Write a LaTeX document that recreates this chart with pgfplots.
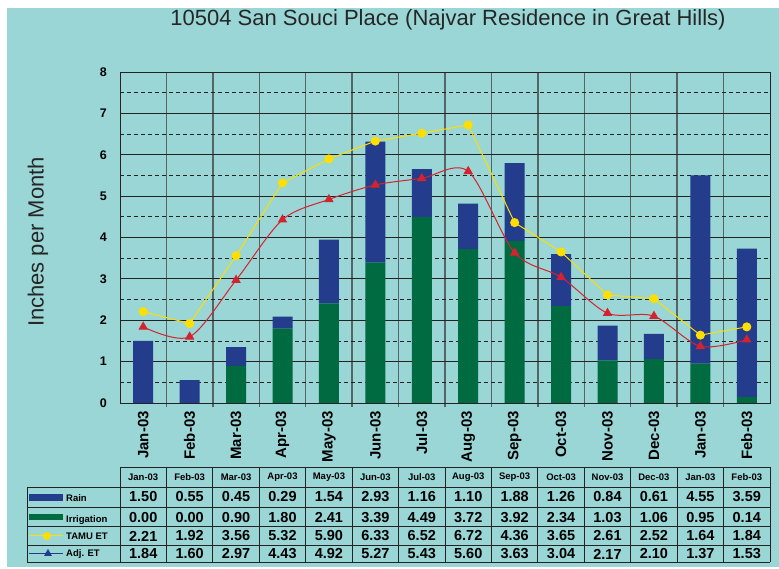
\documentclass[border=0pt]{standalone}
\usepackage{pgfplots}
\usepackage{pgfplotstable}
\pgfplotsset{compat=1.18}
\usepackage{fontspec}
\setmainfont{Liberation Sans}
\definecolor{bg}{RGB}{154,214,214}
\definecolor{rainc}{RGB}{35,60,140}
\definecolor{irrc}{RGB}{0,106,64}
\definecolor{tamuc}{RGB}{255,222,0}
\definecolor{adjc}{RGB}{213,35,45}
\definecolor{gridc}{RGB}{35,35,35}
\definecolor{vgridc}{RGB}{85,100,100}

\pgfplotstableread{
x rain irr tamu adj
0 1.50 0.00 2.21 1.84
1 0.55 0.00 1.92 1.60
2 0.45 0.90 3.56 2.97
3 0.29 1.80 5.32 4.43
4 1.54 2.41 5.90 4.92
5 2.93 3.39 6.33 5.27
6 1.16 4.49 6.52 5.43
7 1.10 3.72 6.72 5.60
8 1.88 3.92 4.36 3.63
9 1.26 2.34 3.65 3.04
10 0.84 1.03 2.61 2.17
11 0.61 1.06 2.52 2.10
12 4.55 0.95 1.64 1.37
13 3.59 0.14 1.84 1.53
}\data

\pgfplotsset{
  common/.style={
    at={(120pt,166pt)}, anchor=south west,
    scale only axis, width=650pt, height=331pt,
    xmin=-0.5, xmax=13.5, ymin=0, ymax=8,
  }
}

\begin{document}
\begin{tikzpicture}[x=1pt,y=1pt]
\fill[white] (0,0) rectangle (779,569);
\fill[bg] (7,2) rectangle (779,561);

\begin{axis}[common,
  ybar stacked, bar width=20pt,
  axis line style={draw=gridc, line width=0.8pt},
  xtick={0,...,13},
  xticklabels={Jan-03,Feb-03,Mar-03,Apr-03,May-03,Jun-03,Jul-03,Aug-03,Sep-03,Oct-03,Nov-03,Dec-03,Jan-03,Feb-03},
  minor xtick={0.5,1.5,...,12.5},
  ytick={0,...,8},
  minor ytick={0.5,1.5,...,7.5},
  xmajorgrids=false, xminorgrids=true,
  ymajorgrids=true, yminorgrids=true,
  major grid style={draw=gridc, line width=0.8pt},
  minor grid style={draw=gridc, line width=0.8pt, dash pattern=on 4pt off 3pt},
  minor x grid style={draw=vgridc, line width=1.4pt, solid},
  tick align=outside, xtick pos=bottom,
  major tick length=0pt, minor tick length=4pt,
  ytick style={draw=none},
  xtick style={draw=vgridc, line width=1.4pt},
  /pgf/number format/assume math mode=true,
  xticklabel style={rotate=90, anchor=east, inner sep=0pt, font=\bfseries\fontsize{15}{15}\selectfont},
  xticklabel shift=8pt,
  yticklabel style={inner sep=0pt, font=\bfseries\fontsize{12.5}{13}\selectfont},
  yticklabel shift=13pt,
]
\addplot[fill=irrc, draw=none] table[x=x,y=irr]{\data};
\addplot[fill=rainc, draw=none] table[x=x,y=rain]{\data};
\end{axis}

\begin{axis}[common, hide axis, clip=false]
\addplot[adjc, line width=1pt, smooth, mark=triangle*, mark size=4.5pt, mark options={fill=adjc, draw=adjc}] table[x=x,y=adj]{\data};
\addplot[tamuc, line width=1pt, mark=*, mark size=4pt, mark options={fill=tamuc, draw=tamuc}] table[x=x,y=tamu]{\data};
\end{axis}

% title and y label
\node[font=\fontsize{22}{24}\selectfont, text=black!85] at (448,549) {10504 San Souci Place (Najvar Residence in Great Hills)};
\node[rotate=90, font=\fontsize{22}{24}\selectfont, text=black!85] at (38,327) {Inches per Month};

% data table
\def\cw{46.4286}
\draw[gridc, line width=0.8pt] (120,102) -- (770,102);
\foreach \yy in {82,62,43,24,7} \draw[gridc, line width=0.8pt] (27,\yy) -- (770,\yy);
\draw[gridc, line width=0.8pt] (27,82) -- (27,7);
\foreach \i in {0,...,14} \draw[gridc, line width=0.8pt] ({120+\cw*\i},102) -- ({120+\cw*\i},7);

\foreach \m [count=\i from 0] in {Jan-03,Feb-03,Mar-03,Apr-03,May-03,Jun-03,Jul-03,Aug-03,Sep-03,Oct-03,Nov-03,Dec-03,Jan-03,Feb-03}
  \node[font=\bfseries\fontsize{9.5}{10}\selectfont] at ({120+\cw*(\i+0.5)},92) {\m};
\foreach \v [count=\i from 0] in {1.50,0.55,0.45,0.29,1.54,2.93,1.16,1.10,1.88,1.26,0.84,0.61,4.55,3.59}
  \node[font=\bfseries\fontsize{14.5}{15}\selectfont] at ({120+\cw*(\i+0.5)},72) {\v};
\foreach \v [count=\i from 0] in {0.00,0.00,0.90,1.80,2.41,3.39,4.49,3.72,3.92,2.34,1.03,1.06,0.95,0.14}
  \node[font=\bfseries\fontsize{14.5}{15}\selectfont] at ({120+\cw*(\i+0.5)},51.5) {\v};
\foreach \v [count=\i from 0] in {2.21,1.92,3.56,5.32,5.90,6.33,6.52,6.72,4.36,3.65,2.61,2.52,1.64,1.84}
  \node[font=\bfseries\fontsize{14.5}{15}\selectfont] at ({120+\cw*(\i+0.5)},33) {\v};
\foreach \v [count=\i from 0] in {1.84,1.60,2.97,4.43,4.92,5.27,5.43,5.60,3.63,3.04,2.17,2.10,1.37,1.53}
  \node[font=\bfseries\fontsize{14.5}{15}\selectfont] at ({120+\cw*(\i+0.5)},15) {\v};

% legend keys
\fill[rainc] (29,68) rectangle (63,75);
\node[anchor=west, inner sep=0pt, font=\bfseries\fontsize{9.5}{10}\selectfont] at (66,71) {Rain};
\fill[irrc] (29,49) rectangle (63,55);
\node[anchor=west, inner sep=0pt, font=\bfseries\fontsize{9.5}{10}\selectfont] at (66,49) {Irrigation};
\draw[tamuc, line width=1pt] (29,33) -- (63,33);
\fill[tamuc] (47,33) circle (4);
\node[anchor=west, inner sep=0pt, font=\bfseries\fontsize{9.5}{10}\selectfont] at (66,33) {TAMU ET};
\draw[rainc, line width=1pt] (29,15) -- (63,15);
\fill[rainc] (48,20) -- (44,13) -- (52,13) -- cycle;
\node[anchor=west, inner sep=0pt, font=\bfseries\fontsize{9.5}{10}\selectfont] at (66,15) {Adj. ET};
\end{tikzpicture}
\end{document}
